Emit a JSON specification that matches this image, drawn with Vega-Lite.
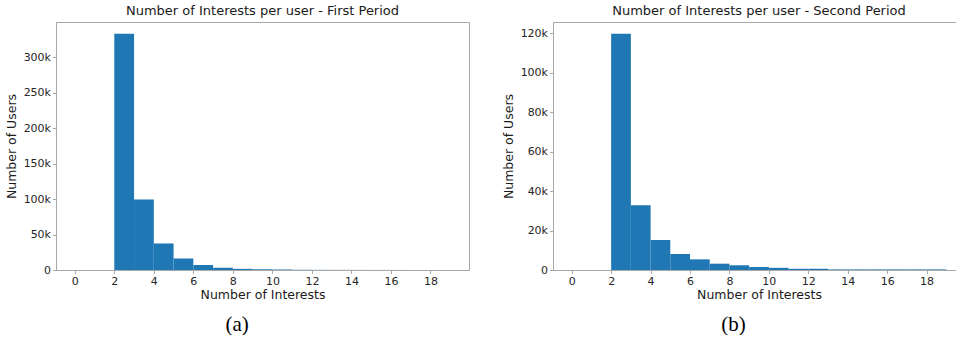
{
  "$schema": "https://vega.github.io/schema/vega-lite/v6.json",
  "padding": {"left": 4, "top": 4, "right": 0, "bottom": 0},
  "background": "white",
  "config": {
    "font": "DejaVu Sans",
    "view": {"stroke": "#a8a8a8", "strokeWidth": 1},
    "axis": {
      "grid": false,
      "labelFont": "DejaVu Sans",
      "labelFontSize": 11,
      "labelColor": "#262626",
      "titleFont": "DejaVu Sans",
      "titleFontSize": 12.5,
      "titleFontWeight": "normal",
      "titleColor": "#1a1a1a",
      "domainColor": "#a8a8a8",
      "tickColor": "#a8a8a8",
      "tickSize": 3.5,
      "labelPadding": 2
    },
    "title": {"font": "DejaVu Sans", "fontSize": 13, "fontWeight": "normal", "color": "#1a1a1a", "offset": 4},
    "concat": {"spacing": 31}
  },
  "datasets": {
    "first": [
      {"start": 0, "end": 1, "users": 0},
      {"start": 1, "end": 2, "users": 0},
      {"start": 2, "end": 3, "users": 333000},
      {"start": 3, "end": 4, "users": 99500},
      {"start": 4, "end": 5, "users": 37400},
      {"start": 5, "end": 6, "users": 16300},
      {"start": 6, "end": 7, "users": 7200},
      {"start": 7, "end": 8, "users": 3200},
      {"start": 8, "end": 9, "users": 1600},
      {"start": 9, "end": 10, "users": 1000},
      {"start": 10, "end": 11, "users": 800},
      {"start": 11, "end": 12, "users": 300},
      {"start": 12, "end": 13, "users": 200},
      {"start": 13, "end": 14, "users": 150},
      {"start": 14, "end": 15, "users": 100},
      {"start": 15, "end": 16, "users": 80},
      {"start": 16, "end": 17, "users": 60},
      {"start": 17, "end": 18, "users": 40},
      {"start": 18, "end": 19, "users": 30}
    ],
    "second": [
      {"start": 0, "end": 1, "users": 0},
      {"start": 1, "end": 2, "users": 0},
      {"start": 2, "end": 3, "users": 119700},
      {"start": 3, "end": 4, "users": 32800},
      {"start": 4, "end": 5, "users": 15200},
      {"start": 5, "end": 6, "users": 8100},
      {"start": 6, "end": 7, "users": 5400},
      {"start": 7, "end": 8, "users": 3200},
      {"start": 8, "end": 9, "users": 2400},
      {"start": 9, "end": 10, "users": 1500},
      {"start": 10, "end": 11, "users": 1100},
      {"start": 11, "end": 12, "users": 600},
      {"start": 12, "end": 13, "users": 600},
      {"start": 13, "end": 14, "users": 300},
      {"start": 14, "end": 15, "users": 300},
      {"start": 15, "end": 16, "users": 300},
      {"start": 16, "end": 17, "users": 300},
      {"start": 17, "end": 18, "users": 300},
      {"start": 18, "end": 19, "users": 300}
    ]
  },
  "hconcat": [
    {
      "title": {"text": "(a)", "orient": "bottom", "anchor": "middle", "font": "Liberation Serif", "fontSize": 21, "color": "#000000", "offset": 12},
      "vconcat": [
        {
          "title": "Number of Interests per user - First Period",
          "width": 413,
          "height": 248,
          "data": {"name": "first"},
          "mark": {"type": "bar", "color": "#1f77b4", "binSpacing": 0},
          "encoding": {
            "x": {
              "field": "start", "type": "quantitative",
              "scale": {"domain": [-0.95, 19.95], "nice": false, "zero": false},
              "axis": {"title": "Number of Interests", "values": [0, 2, 4, 6, 8, 10, 12, 14, 16, 18], "titlePadding": 2}
            },
            "x2": {"field": "end"},
            "y": {
              "field": "users", "type": "quantitative",
              "scale": {"domain": [0, 349650], "nice": false},
              "axis": {"title": "Number of Users", "values": [0, 50000, 100000, 150000, 200000, 250000, 300000], "labelExpr": "datum.value === 0 ? '0' : format(datum.value / 1000, 'd') + 'k'", "titlePadding": 5}
            },
            "y2": {"datum": 0}
          }
        }
      ]
    },
    {
      "title": {"text": "(b)", "orient": "bottom", "anchor": "middle", "font": "Liberation Serif", "fontSize": 21, "color": "#000000", "offset": 12},
      "vconcat": [
        {
          "title": "Number of Interests per user - Second Period",
          "width": 412,
          "height": 248,
          "data": {"name": "second"},
          "mark": {"type": "bar", "color": "#1f77b4", "binSpacing": 0},
          "encoding": {
            "x": {
              "field": "start", "type": "quantitative",
              "scale": {"domain": [-0.95, 19.95], "nice": false, "zero": false},
              "axis": {"title": "Number of Interests", "values": [0, 2, 4, 6, 8, 10, 12, 14, 16, 18], "titlePadding": 2}
            },
            "x2": {"field": "end"},
            "y": {
              "field": "users", "type": "quantitative",
              "scale": {"domain": [0, 125700], "nice": false},
              "axis": {"title": "Number of Users", "values": [0, 20000, 40000, 60000, 80000, 100000, 120000], "labelExpr": "datum.value === 0 ? '0' : format(datum.value / 1000, 'd') + 'k'", "titlePadding": 5}
            },
            "y2": {"datum": 0}
          }
        }
      ]
    }
  ]
}
